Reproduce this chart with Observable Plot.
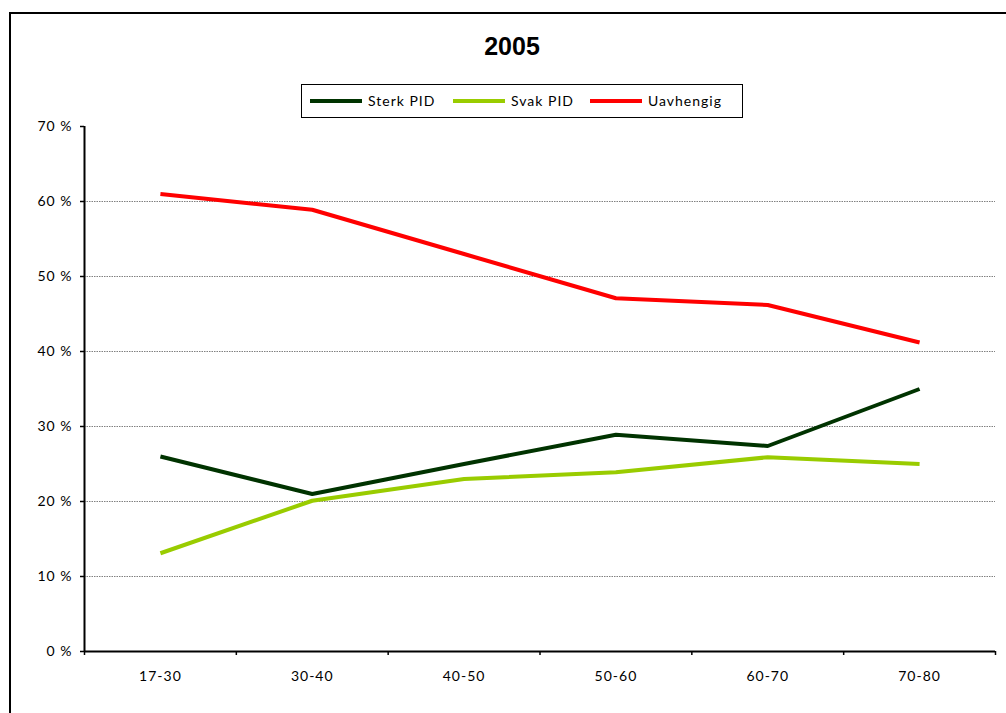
<!DOCTYPE html>
<html>
<head>
<meta charset="utf-8">
<script src="https://cdn.jsdelivr.net/npm/d3@7"></script>
<script src="https://cdn.jsdelivr.net/npm/@observablehq/plot@0.6"></script>
<style>
  html, body { margin: 0; padding: 0; background: #fff; }
  #wrap { position: relative; width: 1006px; height: 713px; overflow: hidden; font-family: Lato, "Open Sans", sans-serif; }
  #frame { position: absolute; left: 9px; top: 12px; width: 1100px; height: 800px; border-left: 2.5px solid #000; border-top: 2.5px solid #000; box-sizing: border-box; }
  #title { position: absolute; left: 0; width: 1024px; top: 32px; text-align: center; font-family: "Liberation Sans", Arial, sans-serif; font-weight: bold; font-size: 25px; color: #000; }
  #legend { position: absolute; left: 301px; top: 84px; width: 442px; height: 34px; border: 1.5px solid #000; box-sizing: border-box; }
  .item { position: absolute; top: 0; height: 31px; display: flex; align-items: center; font-size: 14px; letter-spacing: 1px; color: #000; }
  .sw { display: inline-block; width: 52px; height: 4px; margin-right: 6px; }
  #chart { position: absolute; left: 0; top: 0; }
  #chart svg text { letter-spacing: 1px; }
</style>
</head>
<body>
<div id="wrap">
  <div id="chart"></div>
  <div id="frame"></div>
  <div id="title"></div>
  <div id="legend"></div>
</div>
<script>
const title = "2005";
const categories = ["17-30", "30-40", "40-50", "50-60", "60-70", "70-80"];
const seriesNames = ["Sterk PID", "Svak PID", "Uavhengig"];
const seriesColors = ["#003300", "#99CC00", "#FF0000"];
const sterk = [26.0, 21.0, 25.0, 28.9, 27.4, 35.0];
const svak = [13.1, 20.1, 23.0, 23.9, 25.9, 25.0];
const uavhengig = [61.0, 58.9, 53.0, 47.1, 46.2, 41.2];
const yTicks = [0, 10, 20, 30, 40, 50, 60, 70];
const gridTicks = [10, 20, 30, 40, 50, 60];

const seriesValues = [sterk, svak, uavhengig];
const rows = [];
seriesNames.forEach((s, si) => {
  categories.forEach((c, ci) => rows.push({series: s, idx: ci, cat: c, value: seriesValues[si][ci]}));
});
const centers = categories.map((c, i) => i);
const bounds = d3.range(categories.length + 1).map(i => i - 0.5);

document.getElementById("title").textContent = title;

const legend = document.getElementById("legend");
const legendX = [8, 151, 288];
seriesNames.forEach((s, i) => {
  const it = document.createElement("div");
  it.className = "item";
  it.style.left = legendX[i] + "px";
  const sw = document.createElement("span");
  sw.className = "sw";
  sw.style.background = seriesColors[i];
  const tx = document.createElement("span");
  tx.textContent = s;
  it.appendChild(sw);
  it.appendChild(tx);
  legend.appendChild(it);
});

const chart = Plot.plot({
  width: 1006,
  height: 713,
  marginLeft: 84,
  marginRight: 11,
  marginTop: 126,
  marginBottom: 62,
  style: {fontFamily: "Lato, 'Open Sans', sans-serif", fontSize: "14px", color: "#000", background: "transparent"},
  x: {type: "linear", domain: [-0.5, categories.length - 0.5]},
  y: {domain: [0, 70]},
  color: {domain: seriesNames, range: seriesColors},
  marks: [
    Plot.ruleY(gridTicks, {stroke: "#808080", strokeWidth: 1, strokeDasharray: "1.5,1"}),
    Plot.axisY({ticks: yTicks, tickSize: 4, tickPadding: 8, tickFormat: d => d + " %", label: null, strokeWidth: 1.5, fontSize: 14}),
    Plot.axisX({ticks: bounds, tickSize: 4, tickFormat: () => "", label: null, strokeWidth: 1.5}),
    Plot.axisX({ticks: centers, tickSize: 0, tickPadding: 20, tickFormat: i => categories[i], label: null, fontSize: 14}),
    Plot.ruleX([-0.5], {stroke: "#000", strokeWidth: 2}),
    Plot.ruleY([0], {stroke: "#000", strokeWidth: 2}),
    Plot.line(rows, {x: "idx", y: "value", z: "series", stroke: "series", strokeWidth: 4, strokeLinejoin: "miter", strokeLinecap: "butt"})
  ]
});
document.getElementById("chart").appendChild(chart);
</script>
</body>
</html>
